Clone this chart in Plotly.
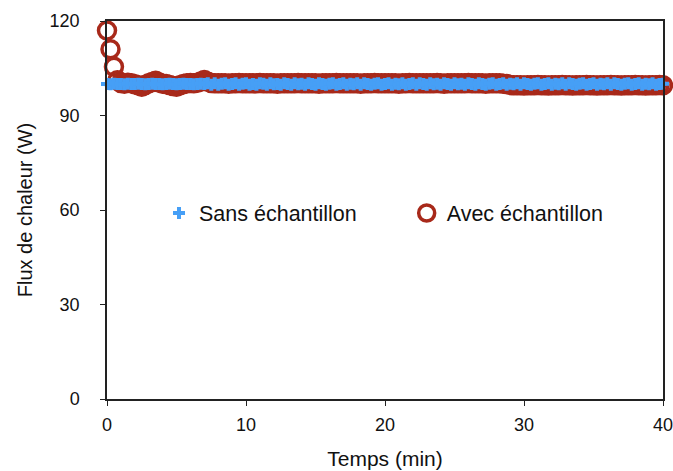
import plotly.graph_objects as go

# Heat flux readings (W), one reading every 15 s over 40 min
SAMPLE_STEP_MIN = 0.25

flux_sans = [
    100.0, 99.9, 100.1, 100.0, 100.0, 99.9, 100.1, 100.0, 100.0, 100.1,
    100.0, 99.9, 100.0, 100.1, 100.0, 100.0, 99.9, 100.0, 100.1, 100.0,
    99.9, 100.0, 100.1, 100.0, 100.0, 99.9, 100.0, 100.1, 100.0, 100.2,
    99.8, 100.2, 99.8, 100.1, 100.2, 99.8, 100.0, 100.2, 99.8, 100.1,
    100.2, 99.8, 100.0, 99.8, 100.2, 100.1, 99.8, 100.2, 99.9, 100.0,
    99.8, 100.2, 100.0, 99.8, 100.2, 99.9, 100.1, 99.8, 100.2, 100.0,
    99.8, 100.2, 100.0, 99.8, 100.1, 100.2, 99.8, 100.0, 100.2, 99.8,
    100.1, 99.9, 100.2, 99.8, 100.2, 100.0, 99.8, 100.1, 100.2, 99.8,
    100.0, 100.2, 99.8, 100.1, 99.9, 100.2, 99.8, 100.0, 100.2, 99.8,
    100.2, 100.0, 99.8, 100.2, 99.9, 100.1, 99.8, 100.2, 100.0, 99.8,
    100.2, 99.9, 100.1, 99.8, 100.2, 100.0, 99.8, 100.2, 100.0, 99.8,
    100.1, 100.2, 99.8, 100.0, 100.2, 99.8, 100.1, 99.9, 100.2, 99.8,
    100.2, 100.0, 99.8, 100.1, 100.2, 99.8, 100.0, 100.2, 99.8, 100.1,
    99.9, 100.2, 99.8, 100.2, 100.0, 99.8, 100.1, 100.2, 99.8, 100.0,
    100.2, 99.8, 100.1, 99.9, 100.2, 99.8, 100.2, 100.0, 99.8, 100.1,
    100.2, 99.8, 100.0, 100.2, 99.8, 100.1, 99.9, 100.2, 99.8, 100.0,
    100.1,
]

flux_avec = [
    117.0, 111.0, 105.5, 101.2, 100.3, 100.1, 100.4, 100.2, 99.9, 99.6,
    99.1, 99.7, 100.2, 100.6, 101.0, 100.5, 100.1, 100.0, 99.7, 99.4,
    99.1, 99.6, 100.0, 100.2, 100.3, 100.2, 100.4, 100.8, 101.3, 100.7,
    100.3, 100.2, 100.2, 100.2, 100.2, 100.1, 100.2, 100.2, 100.3, 100.2,
    100.2, 100.2, 100.2, 100.2, 100.3, 100.2, 100.2, 100.2, 100.2, 100.1,
    100.2, 100.2, 100.2, 100.2, 100.2, 100.3, 100.2, 100.2, 100.2, 100.2,
    100.2, 100.1, 100.2, 100.2, 100.2, 100.2, 100.3, 100.2, 100.2, 100.2,
    100.2, 100.2, 100.2, 100.1, 100.2, 100.2, 100.2, 100.3, 100.2, 100.2,
    100.2, 100.2, 100.2, 100.2, 100.1, 100.2, 100.2, 100.3, 100.2, 100.2,
    100.2, 100.2, 100.2, 100.2, 100.2, 100.3, 100.2, 100.1, 100.2, 100.2,
    100.2, 100.2, 100.2, 100.2, 100.3, 100.2, 100.2, 100.2, 100.2, 100.1,
    100.2, 100.2, 100.2, 100.2, 100.1, 100.0,
    99.7, 99.6, 99.6, 99.6,
    99.5, 99.6, 99.6, 99.6, 99.7, 99.6, 99.6, 99.5, 99.6, 99.6,
    99.6, 99.7, 99.6, 99.6, 99.5, 99.6, 99.6, 99.6, 99.7, 99.6,
    99.6, 99.5, 99.6, 99.6, 99.6, 99.7, 99.6, 99.6, 99.5, 99.6,
    99.6, 99.6, 99.7, 99.6, 99.6, 99.5, 99.6, 99.6, 99.6, 99.7, 99.6,
]

temps_sans = [i * SAMPLE_STEP_MIN for i in range(len(flux_sans))]
temps_avec = [i * SAMPLE_STEP_MIN for i in range(len(flux_avec))]

x_ticks = [0, 10, 20, 30, 40]
y_ticks = [0, 30, 60, 90, 120]

BLUE = "#469FF6"
RED = "#A8291A"
FONT = "Liberation Sans"
INK = "#111111"

fig = go.Figure()

fig.add_trace(go.Scatter(
    x=temps_avec, y=flux_avec, mode="markers", name="Avec échantillon",
    marker=dict(symbol="circle-open", size=17, color=RED, line=dict(width=3.5)),
    legend="legend2", cliponaxis=False,
))
fig.add_trace(go.Scatter(
    x=temps_sans, y=flux_sans, mode="markers", name="Sans échantillon",
    marker=dict(symbol="cross", size=10, color=BLUE, line=dict(width=0)),
    legend="legend", cliponaxis=False,
))

axis_common = dict(
    showline=True, linecolor="#222222", linewidth=1.5, mirror=True,
    showgrid=False, zeroline=False, automargin=False,
    ticks="outside", ticklen=5, tickwidth=1.2, tickcolor="#222222",
    tickfont=dict(family=FONT, size=18, color=INK),
    ticklabeloverflow="allow",
)

legend_common = dict(
    y=0.492, xanchor="left", yanchor="middle",
    orientation="h", bgcolor="rgba(0,0,0,0)",
    font=dict(family=FONT, size=21.5, color=INK),
)

fig.update_layout(
    width=673, height=471, autosize=False,
    margin=dict(l=107, r=10, t=21, b=72),
    paper_bgcolor="white", plot_bgcolor="white",
    font=dict(family=FONT, size=18, color=INK),
    showlegend=True,
    xaxis=dict(
        range=[0, 40], tickvals=x_ticks, ticklabelstandoff=4,
        title=dict(text="Temps (min)", font=dict(family=FONT, size=21, color=INK), standoff=17),
        **axis_common,
    ),
    yaxis=dict(
        range=[0, 120], tickvals=y_ticks, ticklabelstandoff=17,
        title=dict(text="Flux de chaleur (W)", font=dict(family=FONT, size=20, color=INK), standoff=12),
        **axis_common,
    ),
    legend=dict(x=0.0935, **legend_common),
    legend2=dict(x=0.539, **legend_common),
)

fig.write_html("out.html")
